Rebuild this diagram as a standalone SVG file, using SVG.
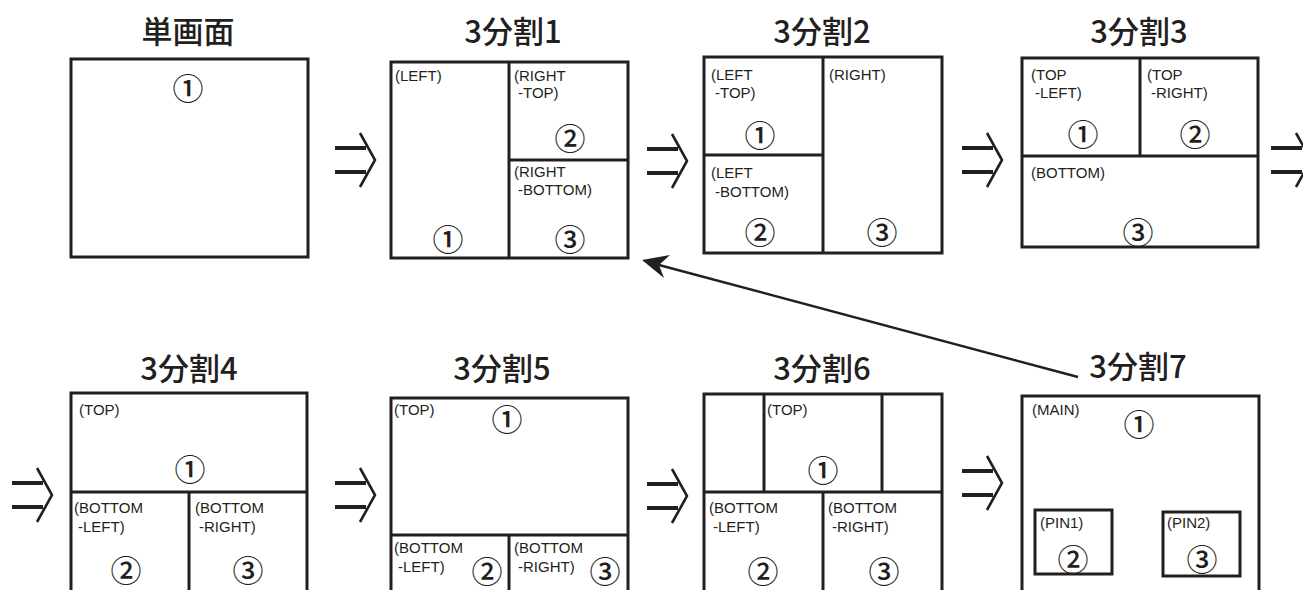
<svg xmlns="http://www.w3.org/2000/svg" xmlns:xlink="http://www.w3.org/1999/xlink" width="1303" height="590" viewBox="0 0 1303 590">
<style>
.bg{fill:#ffffff}
.box{fill:none;stroke:#231f20;stroke-width:3}
.div{fill:none;stroke:#231f20;stroke-width:3}
.title{font-family:"Noto Sans CJK JP","Noto Sans",sans-serif;font-size:31px;font-weight:500;fill:#231f20;text-anchor:middle}
.lbl{font-family:"Liberation Sans","Noto Sans",sans-serif;font-size:15px;fill:#231f20}
.num{font-family:"Noto Sans CJK JP",sans-serif;font-size:31px;font-weight:500;fill:#231f20;text-anchor:middle;dominant-baseline:central}
.bar{stroke:#231f20;stroke-width:4;fill:none}
.chev{stroke:#231f20;stroke-width:2.6;fill:none}
.link{stroke:#231f20;stroke-width:2.5;fill:none}
</style>
<defs>
<g id="step">
<line class="bar" x1="0" y1="-12" x2="31" y2="-12"/>
<line class="bar" x1="0" y1="12" x2="31" y2="12"/>
<polyline class="chev" points="25,-27 40,0 25,27"/>
</g>
</defs>
<rect class="bg" x="0" y="0" width="1303" height="590"/>

<g id="single">
<text class="title" x="188" y="43">単画面</text>
<rect class="box" x="71" y="59" width="237" height="198"/>
<text class="num" x="188" y="86">①</text>
</g>

<g id="split1">
<text class="title" x="513" y="43">3分割1</text>
<rect class="box" x="391" y="62" width="237" height="196"/>
<line class="div" x1="509" y1="62" x2="509" y2="258"/>
<line class="div" x1="509" y1="160" x2="628" y2="160"/>
<text class="lbl" x="395" y="81">(LEFT)</text>
<text class="lbl" x="514" y="81">(RIGHT</text>
<text class="lbl" x="518" y="98">-TOP)</text>
<text class="lbl" x="514" y="177">(RIGHT</text>
<text class="lbl" x="518" y="195">-BOTTOM)</text>
<text class="num" x="448" y="237">①</text>
<text class="num" x="570" y="136">②</text>
<text class="num" x="570" y="237">③</text>
</g>

<g id="split2">
<text class="title" x="822" y="43">3分割2</text>
<rect class="box" x="704" y="57" width="238" height="196"/>
<line class="div" x1="823" y1="57" x2="823" y2="253"/>
<line class="div" x1="704" y1="155" x2="823" y2="155"/>
<text class="lbl" x="711" y="80">(LEFT</text>
<text class="lbl" x="715" y="98">-TOP)</text>
<text class="lbl" x="711" y="178">(LEFT</text>
<text class="lbl" x="715" y="197">-BOTTOM)</text>
<text class="lbl" x="829" y="80">(RIGHT)</text>
<text class="num" x="760" y="133">①</text>
<text class="num" x="760" y="230">②</text>
<text class="num" x="882" y="230">③</text>
</g>

<g id="split3">
<text class="title" x="1139" y="43">3分割3</text>
<rect class="box" x="1022" y="58" width="236" height="189"/>
<line class="div" x1="1140" y1="58" x2="1140" y2="156"/>
<line class="div" x1="1022" y1="156" x2="1258" y2="156"/>
<text class="lbl" x="1031" y="80">(TOP</text>
<text class="lbl" x="1035" y="98">-LEFT)</text>
<text class="lbl" x="1147" y="80">(TOP</text>
<text class="lbl" x="1151" y="98">-RIGHT)</text>
<text class="lbl" x="1031" y="178">(BOTTOM)</text>
<text class="num" x="1083" y="132">①</text>
<text class="num" x="1195" y="132">②</text>
<text class="num" x="1138" y="230">③</text>
</g>

<g id="split4">
<text class="title" x="189" y="380">3分割4</text>
<rect class="box" x="71" y="393" width="236" height="210"/>
<line class="div" x1="71" y1="492" x2="307" y2="492"/>
<line class="div" x1="189" y1="492" x2="189" y2="603"/>
<text class="lbl" x="79" y="415">(TOP)</text>
<text class="lbl" x="74" y="513">(BOTTOM</text>
<text class="lbl" x="78" y="532">-LEFT)</text>
<text class="lbl" x="195" y="513">(BOTTOM</text>
<text class="lbl" x="199" y="532">-RIGHT)</text>
<text class="num" x="190" y="467">①</text>
<text class="num" x="126" y="568">②</text>
<text class="num" x="248" y="568">③</text>
</g>

<g id="split5">
<text class="title" x="502" y="380">3分割5</text>
<rect class="box" x="391" y="398" width="237" height="205"/>
<line class="div" x1="391" y1="535" x2="628" y2="535"/>
<line class="div" x1="509" y1="535" x2="509" y2="603"/>
<text class="lbl" x="394" y="415">(TOP)</text>
<text class="lbl" x="394" y="553">(BOTTOM</text>
<text class="lbl" x="398" y="572">-LEFT)</text>
<text class="lbl" x="514" y="553">(BOTTOM</text>
<text class="lbl" x="518" y="572">-RIGHT)</text>
<text class="num" x="507" y="417">①</text>
<text class="num" x="487" y="569">②</text>
<text class="num" x="605" y="569">③</text>
</g>

<g id="split6">
<text class="title" x="822" y="380">3分割6</text>
<rect class="box" x="704" y="394" width="238" height="209"/>
<line class="div" x1="704" y1="492" x2="942" y2="492"/>
<line class="div" x1="764" y1="394" x2="764" y2="492"/>
<line class="div" x1="882" y1="394" x2="882" y2="492"/>
<line class="div" x1="823" y1="492" x2="823" y2="603"/>
<text class="lbl" x="767" y="415">(TOP)</text>
<text class="lbl" x="709" y="513">(BOTTOM</text>
<text class="lbl" x="713" y="532">-LEFT)</text>
<text class="lbl" x="828" y="513">(BOTTOM</text>
<text class="lbl" x="832" y="532">-RIGHT)</text>
<text class="num" x="823" y="468">①</text>
<text class="num" x="763" y="569">②</text>
<text class="num" x="884" y="569">③</text>
</g>

<g id="split7">
<text class="title" x="1138" y="378">3分割7</text>
<rect class="box" x="1022" y="396" width="237" height="207"/>
<rect class="box" x="1035" y="510" width="77" height="64"/>
<rect class="box" x="1163" y="512" width="77" height="64"/>
<text class="lbl" x="1032" y="415">(MAIN)</text>
<text class="lbl" x="1040" y="528">(PIN1)</text>
<text class="lbl" x="1167" y="528">(PIN2)</text>
<text class="num" x="1139" y="422">①</text>
<text class="num" x="1073" y="557">②</text>
<text class="num" x="1202" y="557">③</text>
</g>

<g id="connectors">
<use xlink:href="#step" href="#step" transform="translate(335,160)"/>
<use xlink:href="#step" href="#step" transform="translate(647,161)"/>
<use xlink:href="#step" href="#step" transform="translate(962,160)"/>
<use xlink:href="#step" href="#step" transform="translate(1271,160)"/>
<use xlink:href="#step" href="#step" transform="translate(12,495)"/>
<use xlink:href="#step" href="#step" transform="translate(335,495)"/>
<use xlink:href="#step" href="#step" transform="translate(647,496)"/>
<use xlink:href="#step" href="#step" transform="translate(962,483)"/>
<line class="link" x1="1078" y1="377" x2="659" y2="265"/>
<path d="M642,260 L670,255 L659,265 L664,278 Z" fill="#231f20"/>
</g>
</svg>
